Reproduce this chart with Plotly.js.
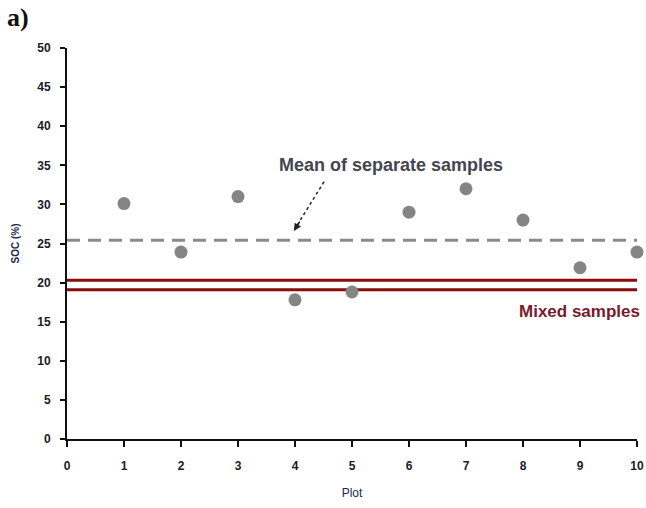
<!DOCTYPE html>
<html>
<head>
<meta charset="utf-8">
<script src="https://cdn.plot.ly/plotly-3.0.1.min.js"></script>
<style>html,body{margin:0;padding:0;background:#fff;}#chart{width:646px;height:508px;}</style>
</head>
<body>
<div id="chart"></div>
<script>
const plots = [1, 2, 3, 4, 5, 6, 7, 8, 9, 10];
const soc = [30.1, 23.9, 31.0, 17.8, 18.8, 29.0, 32.0, 28.0, 21.9, 23.9];
const meanSeparate = 25.4;
const mixedUpper = 20.3;
const mixedLower = 19.1;
const lineX = [0, 10];
const xTicks = [0, 1, 2, 3, 4, 5, 6, 7, 8, 9, 10];
const yTicks = [0, 5, 10, 15, 20, 25, 30, 35, 40, 45, 50];

const sans = 'Liberation Sans, Arial, sans-serif';
const tickFont = {family: sans, size: 12, color: '#1a1a2a', weight: 'bold'};

const traces = [
  {x: lineX, y: [meanSeparate, meanSeparate], mode: 'lines', line: {color: '#8a8a8a', width: 3, dash: '13px,8px'}, hoverinfo: 'skip', cliponaxis: false},
  {x: lineX, y: [mixedUpper, mixedUpper], mode: 'lines', line: {color: '#8b0a0a', width: 3}, hoverinfo: 'skip', cliponaxis: false},
  {x: lineX, y: [mixedLower, mixedLower], mode: 'lines', line: {color: '#8b0a0a', width: 3}, hoverinfo: 'skip', cliponaxis: false},
  {x: plots, y: soc, mode: 'markers', marker: {color: '#858585', size: 13}, cliponaxis: false}
];

const layout = {
  width: 646, height: 508,
  margin: {l: 67, r: 9, t: 48, b: 69},
  paper_bgcolor: '#fff', plot_bgcolor: '#fff',
  showlegend: false,
  xaxis: {
    range: [0, 10], tickvals: xTicks, ticktext: xTicks.map(String),
    showgrid: false, zeroline: false, showline: true, linecolor: '#111', linewidth: 2,
    ticks: 'outside', ticklen: 6, tickwidth: 2, tickcolor: '#111',
    tickfont: tickFont, ticklabelstandoff: 9, fixedrange: true,
    title: {text: 'Plot', font: {family: sans, size: 12, color: '#1a2a4a'}, standoff: 16}
  },
  yaxis: {
    range: [0, 50], tickvals: yTicks, ticktext: yTicks.map(String),
    showgrid: false, zeroline: false, showline: true, linecolor: '#111', linewidth: 2,
    ticks: 'outside', ticklen: 5, tickwidth: 2, tickcolor: '#111',
    tickfont: tickFont, ticklabelstandoff: 7, fixedrange: true,
    title: {text: 'SOC (%)', font: {family: sans, size: 10, color: '#1a2a4a', weight: 'bold'}, standoff: 16}
  },
  shapes: [
    {type: 'line', xref: 'x', yref: 'y', x0: 4.51, y0: 32.9, x1: 4.0, y1: 26.9,
     line: {color: '#222', width: 1.5, dash: 'dot'}}
  ],
  annotations: [
    {xref: 'paper', yref: 'paper', x: -0.109, y: 1.079, xanchor: 'left', yanchor: 'middle', text: '<b>a)</b>', showarrow: false,
     font: {family: 'Liberation Serif, Times New Roman, serif', size: 26, color: '#111'}},
    {xref: 'x', yref: 'y', x: 5.68, y: 35.0, text: '<b>Mean of separate samples</b>', showarrow: false,
     font: {family: sans, size: 18, color: '#45454f'}},
    {xref: 'x', yref: 'y', x: 3.98, y: 26.6, ax: 4.1, ay: 28.0, axref: 'x', ayref: 'y', text: '', showarrow: true,
     arrowhead: 2, arrowsize: 1, arrowwidth: 1.5, arrowcolor: '#222', standoff: 0},
    {xref: 'x', yref: 'y', x: 10, y: 16.3, xanchor: 'right', xshift: 5, text: '<b>Mixed samples</b>', showarrow: false,
     font: {family: sans, size: 17, color: '#7a1a2a'}}
  ]
};

Plotly.newPlot('chart', traces, layout, {displayModeBar: false, staticPlot: true});
</script>
</body>
</html>
